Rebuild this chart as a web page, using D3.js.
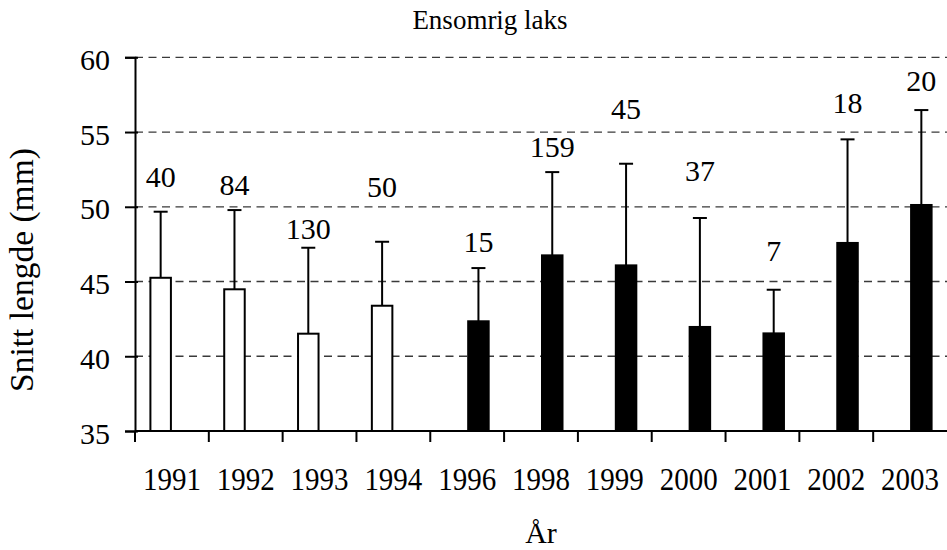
<!DOCTYPE html>
<html>
<head>
<meta charset="utf-8">
<script src="https://cdn.jsdelivr.net/npm/d3@7"></script>
<style>
  html, body { margin: 0; padding: 0; background: #fff; }
  svg { display: block; }
  text { font-family: "Liberation Serif", "Times New Roman", serif; fill: #000; }
</style>
</head>
<body>
<svg id="chart" width="947" height="550"></svg>
<script>
// Mean length of one-year-old salmon per year, with SD and sample size
const years = ["1991", "1992", "1993", "1994", "1996", "1998", "1999", "2000", "2001", "2002", "2003"];
const meanLength = [45.25, 44.48, 41.51, 43.38, 42.34, 46.75, 46.08, 41.96, 41.53, 47.58, 50.12];
const sdLength = [4.42, 5.30, 5.75, 4.28, 3.56, 5.57, 6.80, 7.29, 2.92, 6.93, 6.35];
const sampleSize = [40, 84, 130, 50, 15, 159, 45, 37, 7, 18, 20];
// Which series each year belongs to (open bars for the early years, filled later)
const series = ["early", "early", "early", "early", "late", "late", "late", "late", "late", "late", "late"];
// Height (in mm on the value axis) at which each n label sits
const nLabelLevel = [51.34, 50.79, 47.82, 50.63, 46.95, 53.35, 55.89, 51.72, 46.37, 56.29, 57.76];
const yTicks = [35, 40, 45, 50, 55, 60];
const seriesNames = ["early", "late"];

const svg = d3.select("#chart");
const plotLeft = 135, plotRight = 947, plotTop = 57.3, plotBottom = 431;
const serif = "'Liberation Serif', 'Times New Roman', serif";

const x = d3.scaleBand().domain(years).range([plotLeft, plotRight]).paddingInner(0).paddingOuter(0);
const xs = d3.scaleBand().domain(seriesNames).range([0, x.bandwidth()]).paddingInner(0).paddingOuter(0.64);
const y = d3.scaleLinear().domain([35, 60]).range([plotBottom, plotTop]);

const rows = years.map((yr, i) => ({
  year: yr, mean: meanLength[i], sd: sdLength[i], n: sampleSize[i],
  s: series[i], lab: nLabelLevel[i]
}));

// dashed gridlines
svg.append("g")
  .selectAll("line")
  .data(yTicks.filter(t => t > 35))
  .join("line")
  .attr("x1", plotLeft).attr("x2", plotRight)
  .attr("y1", d => y(d)).attr("y2", d => y(d))
  .attr("stroke", "#3a3a3a").attr("stroke-width", 1.3)
  .attr("stroke-dasharray", "8,5.5");

// bars
const barCx = d => x(d.year) + xs(d.s) + xs.bandwidth() / 2;
svg.append("g")
  .selectAll("rect")
  .data(rows)
  .join("rect")
  .attr("x", d => x(d.year) + xs(d.s) + 1)
  .attr("width", xs.bandwidth() - 2)
  .attr("y", d => y(d.mean))
  .attr("height", d => y(35) - y(d.mean))
  .attr("fill", d => d.s === "early" ? "#fff" : "#000")
  .attr("stroke", "#000").attr("stroke-width", 2);

// upper error bars
const err = svg.append("g").attr("stroke", "#000").attr("stroke-width", 2);
err.selectAll("line.v")
  .data(rows).join("line").attr("class", "v")
  .attr("x1", barCx).attr("x2", barCx)
  .attr("y1", d => y(d.mean)).attr("y2", d => y(d.mean + d.sd));
err.selectAll("line.c")
  .data(rows).join("line").attr("class", "c")
  .attr("x1", d => barCx(d) - 7).attr("x2", d => barCx(d) + 7)
  .attr("y1", d => y(d.mean + d.sd)).attr("y2", d => y(d.mean + d.sd));

// sample-size labels
svg.append("g")
  .selectAll("text")
  .data(rows)
  .join("text")
  .attr("x", barCx)
  .attr("y", d => y(d.lab))
  .attr("text-anchor", "middle")
  .style("font-family", serif)
  .style("font-size", "30px")
  .text(d => d.n);

// y axis
const yAxis = svg.append("g")
  .attr("transform", `translate(${plotLeft},0)`)
  .call(d3.axisLeft(y).tickValues(yTicks).tickSize(10).tickPadding(15).tickFormat(d3.format("d")));
yAxis.attr("font-family", null);
yAxis.select(".domain").attr("stroke", "#000").attr("stroke-width", 2);
yAxis.selectAll(".tick line").attr("stroke", "#000").attr("stroke-width", 2).attr("x2", -10).attr("x1", 3);
yAxis.selectAll(".tick text").style("font-size", "30px").style("font-family", serif).attr("dy", "0.4em");

// x axis
const xAxis = svg.append("g")
  .attr("transform", `translate(0,${plotBottom})`)
  .call(d3.axisBottom(x).tickSize(0));
xAxis.attr("font-family", null);
xAxis.select(".domain").attr("stroke", "#000").attr("stroke-width", 2).attr("d", `M${plotLeft},0H${plotRight}`);
xAxis.selectAll(".tick text")
  .style("font-size", "29px").style("font-family", serif)
  .attr("y", 0).attr("dy", null)
  .attr("transform", "translate(0,59) scale(1,1.1)");
// tick marks on category boundaries
svg.append("g")
  .selectAll("line")
  .data(years)
  .join("line")
  .attr("x1", d => x(d)).attr("x2", d => x(d))
  .attr("y1", plotBottom).attr("y2", plotBottom + 11)
  .attr("stroke", "#000").attr("stroke-width", 2);

// titles
svg.append("text")
  .attr("x", 490).attr("y", 29)
  .attr("text-anchor", "middle")
  .style("font-family", serif)
  .style("font-size", "27px")
  .text("Ensomrig laks");

svg.append("text")
  .attr("x", 541).attr("y", 543)
  .attr("text-anchor", "middle")
  .style("font-family", serif)
  .style("font-size", "30px")
  .text("År");

svg.append("text")
  .attr("transform", "translate(33,270) rotate(-90)")
  .attr("text-anchor", "middle")
  .style("font-family", serif)
  .style("font-size", "33.5px")
  .text("Snitt lengde (mm)");
</script>
</body>
</html>
